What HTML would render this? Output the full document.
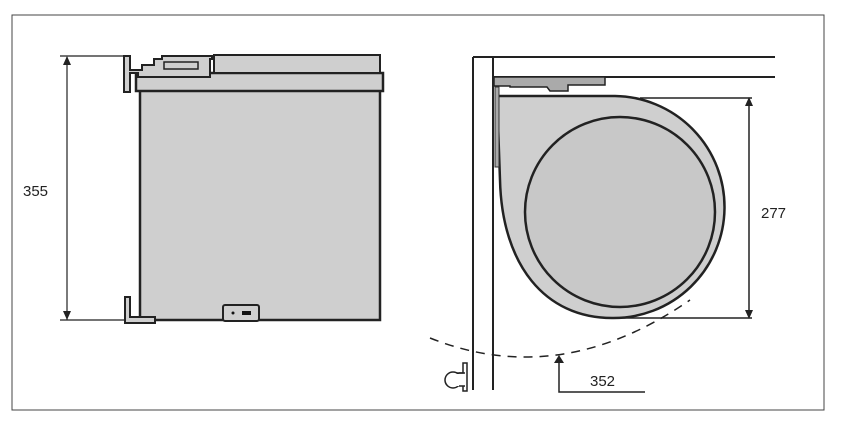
<!DOCTYPE html>
<html><head><style>body{margin:0;background:#fff}svg{display:block}</style></head><body>
<svg width="860" height="429" viewBox="0 0 860 429" xmlns="http://www.w3.org/2000/svg">
<rect x="0" y="0" width="860" height="429" fill="#fff"/>
<rect x="12" y="15" width="812" height="395" fill="none" stroke="#444" stroke-width="1"/>
<g stroke="#222" fill="#cfcfcf">
<rect x="140" y="90" width="240" height="230" stroke-width="2.5"/>
<rect x="136" y="73" width="247" height="18" stroke-width="2.5"/>
<rect x="214" y="55" width="166" height="18" stroke-width="2"/>
<path d="M124,56 h6 v14 h12 v-5 h12 v-6 h8 v-3 h50 v3 h-2 v18 h-72 v-4 h-8 v19 h-6z" stroke-width="2"/>
<rect x="164" y="62" width="34" height="7" fill="none" stroke-width="1.5"/>
<path d="M125,297 h5 v20 h25 v6 h-30z" stroke-width="2"/>
<rect x="223" y="305" width="36" height="16" rx="2" stroke-width="2"/>
</g>
<circle cx="233" cy="313" r="1.5" fill="#111"/><rect x="242" y="311" width="9" height="4" fill="#111"/>
<g stroke="#222" stroke-width="1.2" fill="none">
<line x1="67" y1="57" x2="67" y2="320"/>
<line x1="60" y1="56" x2="125" y2="56"/>
<line x1="60" y1="320" x2="125" y2="320"/>
</g>
<path d="M67,56 l-4,9 h8z M67,320 l-4,-9 h8z" fill="#222"/>
<text x="23" y="196" font-family="Liberation Sans, sans-serif" font-size="15" fill="#222">355</text>
<path d="M497,96 L615,96 A110,110 0 0 1 612,318 C545,318 502,265 500,180 Z" fill="#cfcfcf" stroke="#222" stroke-width="2.5"/>
<circle cx="620" cy="212" r="95" fill="#c8c8c8" stroke="#222" stroke-width="2.5"/>
<g stroke="#222" stroke-width="2" fill="none">
<line x1="473" y1="57" x2="473" y2="390"/>
<line x1="493" y1="57" x2="493" y2="390"/>
<line x1="473" y1="57" x2="775" y2="57"/>
<line x1="493" y1="77" x2="775" y2="77"/>
</g>
<path d="M494,77 h111 v8 h-37 v6 h-18 l-3,-4 h-37 v-1 h-16z" fill="#aaa" stroke="#222" stroke-width="1.5"/>
<rect x="495" y="87" width="4" height="80" fill="#aaa" stroke="#333" stroke-width="1"/>
<g stroke="#222" stroke-width="1.5" fill="none">
<line x1="640" y1="98" x2="752" y2="98"/>
<line x1="620" y1="318" x2="752" y2="318"/>
<line x1="749" y1="100" x2="749" y2="316"/>
<path d="M430,338 Q560,390 690,300" stroke-dasharray="9,7"/>
<path d="M559,362 V392 H645"/>
<path d="M453,373 h10 v-10 h4 v28 h-4 v-10 h-10"/>
</g>
<circle cx="453" cy="380" r="8" fill="#fff" stroke="#222" stroke-width="1.5"/>
<rect x="455" y="374" width="10" height="12" fill="#fff"/>
<path d="M465,373 h-6 M465,386 h-6" stroke="#222" stroke-width="1.5"/>
<path d="M749,97 l-4,9 h8z M749,319 l-4,-9 h8z M559,355 l-5,8 h10z" fill="#222"/>
<text x="761" y="218" font-family="Liberation Sans, sans-serif" font-size="15" fill="#222">277</text>
<text x="590" y="386" font-family="Liberation Sans, sans-serif" font-size="15" fill="#222">352</text>
</svg>
</body></html>
